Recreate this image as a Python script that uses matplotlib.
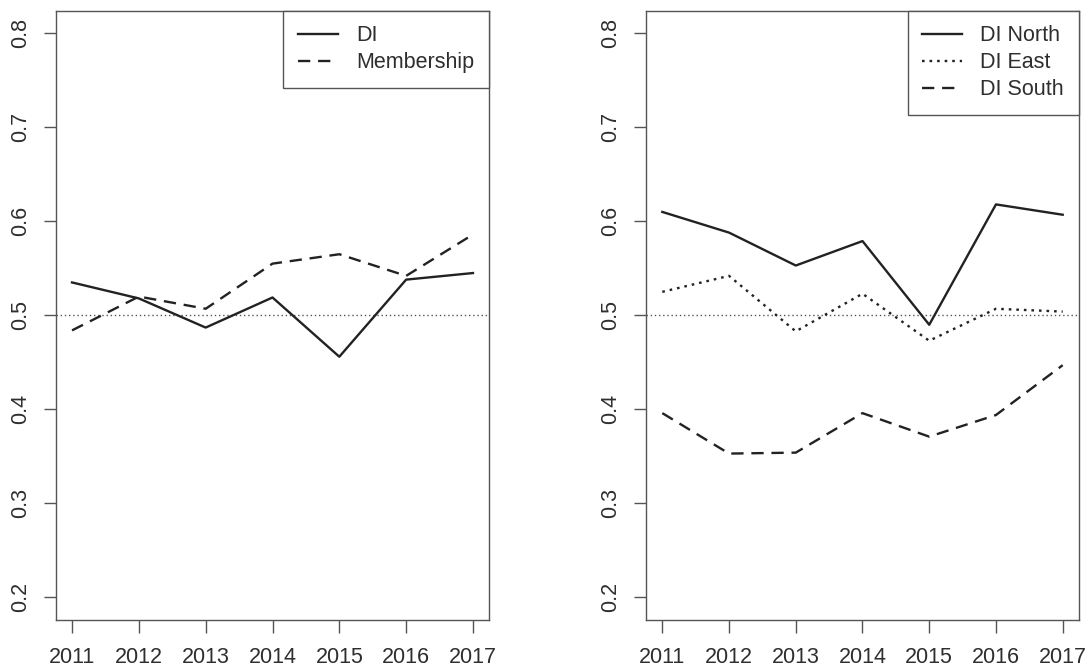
import matplotlib
matplotlib.use("Agg")
import matplotlib.pyplot as plt

# Yearly shares, national and by region
years = [2011, 2012, 2013, 2014, 2015, 2016, 2017]
di = [0.535, 0.518, 0.487, 0.519, 0.456, 0.538, 0.545]
membership = [0.484, 0.520, 0.507, 0.555, 0.565, 0.542, 0.586]
di_north = [0.610, 0.588, 0.553, 0.579, 0.490, 0.618, 0.607]
di_east = [0.525, 0.542, 0.483, 0.523, 0.473, 0.507, 0.504]
di_south = [0.396, 0.353, 0.354, 0.396, 0.371, 0.394, 0.447]
yticks = [0.2, 0.3, 0.4, 0.5, 0.6, 0.7, 0.8]
reference_level = 0.5

plt.rcParams["font.family"] = ["Liberation Sans", "DejaVu Sans"]

LINE = "#222222"
FRAME = "#555555"
TEXT = "#2e2e2e"
FS = 15.5
LW = 1.7

SOLID = "-"
DASHED = (0, (5.2, 3.3))
DOTTED = (0, (1.1, 2.1))

fig = plt.figure(figsize=(10.89, 6.68), dpi=100)
ax1 = fig.add_axes([56 / 1089, 1 - 620 / 668, 433 / 1089, 609.3 / 668])
ax2 = fig.add_axes([646.3 / 1089, 1 - 620 / 668, 432.4 / 1089, 609.3 / 668])


def style(ax):
    ymin, ymax = 0.2, 0.8
    pad = 0.04 * (ymax - ymin)
    ax.set_ylim(ymin - pad, ymax + pad)
    xpad = 0.04 * (years[-1] - years[0])
    ax.set_xlim(years[0] - xpad, years[-1] + xpad)
    ax.set_xticks(years)
    ax.set_xticklabels([str(y) for y in years])
    ax.set_yticks(yticks)
    ax.set_yticklabels([f"{v:.1f}" for v in yticks])
    for s in ax.spines.values():
        s.set_color(FRAME)
        s.set_linewidth(1.0)
    ax.tick_params(axis="both", direction="out", length=9, width=1.0,
                   color=FRAME, labelcolor=TEXT, labelsize=FS)
    ax.tick_params(axis="x", pad=10.5)
    ax.tick_params(axis="y", pad=9)
    for lab in ax.get_yticklabels():
        lab.set_rotation(90)
        lab.set_va("center")
        lab.set_ha("right")
        lab.set_rotation_mode("default")
    ax.axhline(reference_level, color="#555555", lw=1.0,
               linestyle=(0, (1, 2)), zorder=1)


def legend(ax):
    leg = ax.legend(loc="upper right", fontsize=FS, frameon=True,
                    fancybox=False, borderaxespad=0, framealpha=1,
                    edgecolor=FRAME, handlelength=1.85, handletextpad=0.85,
                    labelspacing=0.28, borderpad=0.68)
    leg.get_frame().set_linewidth(1.0)
    for t in leg.get_texts():
        t.set_color(TEXT)
    return leg


style(ax1)
ax1.plot(years, di, color=LINE, lw=LW, linestyle=SOLID, label="DI")
ax1.plot(years, membership, color=LINE, lw=LW, linestyle=DASHED,
         label="Membership")
legend(ax1)

style(ax2)
ax2.plot(years, di_north, color=LINE, lw=LW, linestyle=SOLID,
         label="DI North")
ax2.plot(years, di_east, color=LINE, lw=LW, linestyle=DOTTED,
         label="DI East")
ax2.plot(years, di_south, color=LINE, lw=LW, linestyle=DASHED,
         label="DI South")
legend(ax2)

fig.savefig("out.png", dpi=100, facecolor="white")
